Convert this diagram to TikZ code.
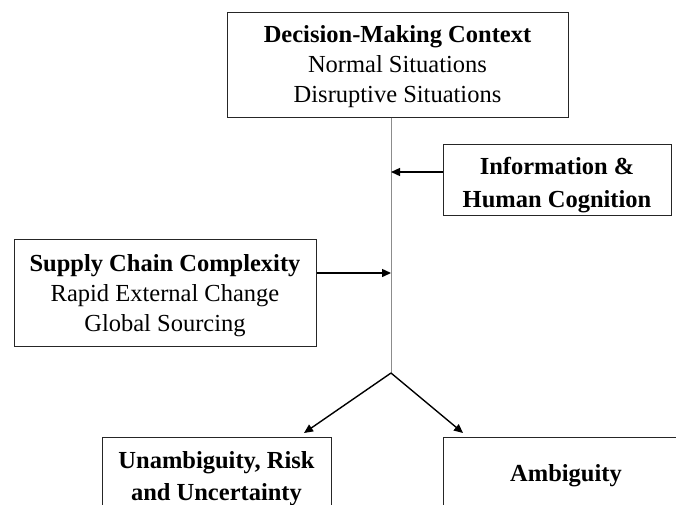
\documentclass[tikz,border=0pt]{standalone}
\usepackage{fontspec}
\setmainfont{Liberation Serif}
\usetikzlibrary{arrows.meta}

\newcommand\dropby[1]{\rule{0pt}{#1}}

\tikzset{
  box/.style={draw=black!85, line width=1pt, align=center, inner sep=0pt},
  link/.style={line width=1.4pt, -{Triangle[length=9pt,width=8pt]}},
  trunk/.style={draw=black!45, line width=1pt},
}

\begin{document}
\begin{tikzpicture}[x=1pt, y=-1pt, font=\fontsize{24.5}{30}\selectfont]
	\useasboundingbox (0,0) rectangle (676,504);
	
	%%%%% BOXES %%%%%
	\node[box, minimum width=341pt, minimum height=105pt] (ctx) at (397.5,64.5)
		{\dropby{21.7pt}\textbf{Decision-Making Context}\\Normal Situations\\Disruptive Situations};
	\node[box, minimum width=228pt, minimum height=71pt, font=\fontsize{24.5}{33}\selectfont] (info) at (557,179.5)
		{\dropby{28.6pt}\textbf{Information \&}\\\textbf{Human Cognition}};
	\node[box, minimum width=302pt, minimum height=107pt] (scc) at (165,292.5)
		{\dropby{22.7pt}\textbf{Supply Chain Complexity}\\Rapid External Change\\Global Sourcing};
	\node[box, minimum width=229pt, minimum height=78pt, font=\fontsize{24.5}{32}\selectfont] (unamb) at (216.5,476)
		{\dropby{22.7pt}\textbf{Unambiguity, Risk}\\\textbf{and Uncertainty}};
	\node[box, minimum width=246pt, minimum height=72pt] (amb) at (566,473)
		{\dropby{22.7pt}\textbf{Ambiguity}};
	
	%%%%% LINKS %%%%%
	\coordinate (infoin) at (391,172);
	\coordinate (sccin) at (391,273);
	\coordinate (fork) at (391,373);
	\coordinate (utip) at (304,433);
	\coordinate (atip) at (463,433);
	
	\draw[trunk] (ctx.south -| fork) -- (fork);
	\draw[link] (info.west |- infoin) -- (infoin);
	\draw[link] (scc.east |- sccin) -- (sccin);
	\draw[link] (fork) -- (utip);
	\draw[link] (fork) -- (atip);
	
\end{tikzpicture}
\end{document}
